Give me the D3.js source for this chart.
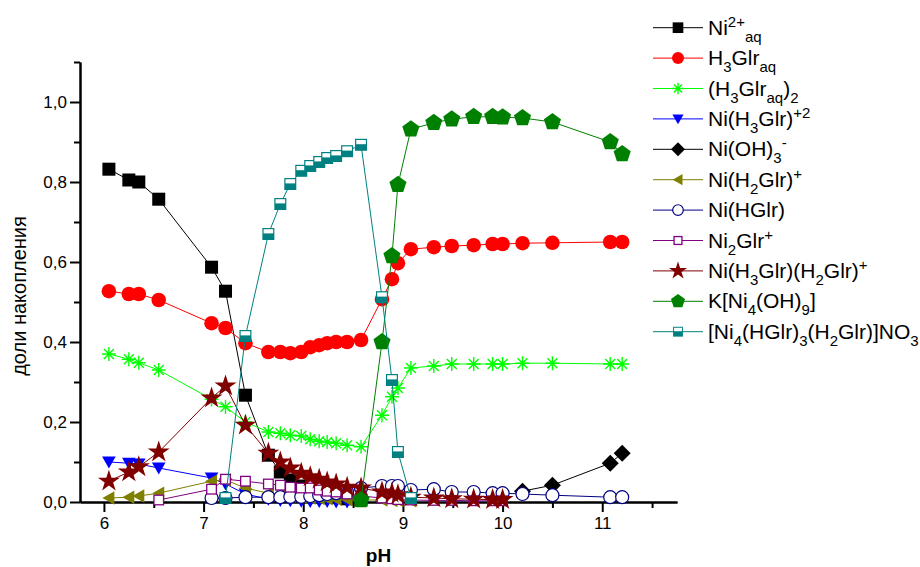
<!DOCTYPE html>
<html>
<head>
<meta charset="utf-8">
<script src="https://cdn.jsdelivr.net/npm/d3@7"></script>
<style>
  body { margin: 0; background: #fff; }
  svg { display: block; }
</style>
</head>
<body>
<div id="chart"></div>
<script>
// pH grid shared by every species
const pH = [6.05, 6.25, 6.35, 6.55, 7.08, 7.22, 7.42, 7.65, 7.77, 7.87, 7.98, 8.07, 8.16, 8.24, 8.33,
  8.44, 8.58, 8.79, 8.89, 8.95, 9.08, 9.31, 9.49, 9.71, 9.90, 10.0, 10.2, 10.5, 11.08, 11.2];

const niAq = [0.832, 0.805, 0.80, 0.757, 0.587, 0.527, 0.267, 0.117, 0.075, 0.055, 0.04, 0.03, 0.022, 0.017, 0.012,
  0.008, 0.005, null, null, null, null, null, null, null, null, null, null, null, null, null];
const h3glr = [0.527, 0.52, 0.52, 0.505, 0.447, 0.435, 0.397, 0.375, 0.375, 0.372, 0.375, 0.387, 0.392, 0.397, 0.40,
  0.40, 0.405, 0.507, 0.557, 0.597, 0.632, 0.637, 0.64, 0.642, 0.645, 0.645, 0.647, 0.648, 0.65, 0.65];
const h3glrDimer = [0.37, 0.357, 0.348, 0.33, 0.257, 0.238, 0.20, 0.175, 0.172, 0.167, 0.165, 0.157, 0.152, 0.15, 0.147,
  0.142, 0.138, 0.217, 0.263, 0.285, 0.335, 0.34, 0.345, 0.345, 0.345, 0.345, 0.347, 0.347, 0.345, 0.345];
const niH3glr = [0.10, 0.097, 0.095, 0.085, 0.06, 0.045, 0.02, 0.007, 0.004, 0.003, 0.002, 0.001, 0.001, 0.001, 0.0,
  0.0, null, null, null, null, null, null, null, null, null, null, null, null, null, null];
const niOH3 = [null, null, null, null, null, null, null, null, null, null, null, null, null, null, null,
  null, null, null, null, null, null, null, null, null, null, null, 0.027, 0.042, 0.097, 0.122];
const niH2glr = [0.01, 0.012, 0.015, 0.022, 0.052, 0.055, 0.035, 0.022, 0.018, 0.015, 0.012, 0.01, 0.009, 0.008, 0.007,
  0.006, 0.005, 0.005, 0.004, 0.004, 0.003, null, null, null, null, null, null, null, null, null];
const niHglr = [null, null, null, null, 0.01, 0.01, 0.012, 0.012, 0.012, 0.013, 0.013, 0.015, 0.017, 0.02, 0.022,
  0.025, 0.035, 0.04, 0.04, 0.04, 0.03, 0.032, 0.025, 0.025, 0.022, 0.022, 0.02, 0.017, 0.012, 0.012];
const ni2glr = [null, null, null, 0.005, 0.032, 0.057, 0.052, 0.045, 0.042, 0.037, 0.035, 0.035, 0.03, 0.027, 0.025,
  0.02, 0.015, 0.01, 0.008, 0.006, 0.005, 0.004, 0.004, 0.003, 0.003, 0.003, null, null, null, null];
const niMixed = [0.052, 0.075, 0.088, 0.125, 0.26, 0.29, 0.192, 0.122, 0.10, 0.085, 0.072, 0.063, 0.057, 0.05, 0.045,
  0.037, 0.035, 0.025, 0.022, 0.018, 0.012, 0.01, 0.008, 0.007, 0.006, 0.006, null, null, null, null];
const kNi4 = [null, null, null, null, null, null, null, null, null, null, null, null, null, null, null,
  null, 0.005, 0.40, 0.615, 0.793, 0.932, 0.948, 0.957, 0.963, 0.963, 0.962, 0.96, 0.95, 0.90, 0.87];
const ni4No3 = [null, null, null, null, null, 0.01, 0.415, 0.67, 0.745, 0.795, 0.828, 0.84, 0.85, 0.86, 0.865,
  0.877, 0.893, 0.512, 0.305, 0.125, 0.01, null, null, null, null, null, null, null, null, null];

// legend labels: [text, "n" | "sub" | "sup"]
const LABELS = [
  [["Ni", "n"], ["2+", "sup"], ["aq", "sub"]],
  [["H", "n"], ["3", "sub"], ["Glr", "n"], ["aq", "sub"]],
  [["(H", "n"], ["3", "sub"], ["Glr", "n"], ["aq", "sub"], [")", "n"], ["2", "sub"]],
  [["Ni(H", "n"], ["3", "sub"], ["Glr)", "n"], ["+2", "sup"]],
  [["Ni(OH)", "n"], ["3", "sub"], ["-", "sup"]],
  [["Ni(H", "n"], ["2", "sub"], ["Glr)", "n"], ["+", "sup"]],
  [["Ni(HGlr)", "n"]],
  [["Ni", "n"], ["2", "sub"], ["Glr", "n"], ["+", "sup"]],
  [["Ni(H", "n"], ["3", "sub"], ["Glr)(H", "n"], ["2", "sub"], ["Glr)", "n"], ["+", "sup"]],
  [["K[Ni", "n"], ["4", "sub"], ["(OH)", "n"], ["9", "sub"], ["]", "n"]],
  [["[Ni", "n"], ["4", "sub"], ["(HGlr)", "n"], ["3", "sub"], ["(H", "n"], ["2", "sub"], ["Glr)]NO", "n"], ["3", "sub"]],
];

const X_TICKS = [6, 7, 8, 9, 10, 11];
const Y_TICKS = [0, 0.2, 0.4, 0.6, 0.8, 1.0];

const series = [
  { values: niAq, color: "#000000", symbol: "square" },
  { values: h3glr, color: "#ff0000", symbol: "circle" },
  { values: h3glrDimer, color: "#00ff00", symbol: "asterisk" },
  { values: niH3glr, color: "#0000ff", symbol: "triDown" },
  { values: niOH3, color: "#000000", symbol: "diamond" },
  { values: niH2glr, color: "#808000", symbol: "triLeft" },
  { values: niHglr, color: "#000080", symbol: "openCircle" },
  { values: ni2glr, color: "#800080", symbol: "openSquare" },
  { values: niMixed, color: "#800000", symbol: "star" },
  { values: kNi4, color: "#008000", symbol: "pentagon" },
  { values: ni4No3, color: "#008080", symbol: "halfSquare" },
];

const W = 920, H = 567;
const FONT = "Arial, 'Liberation Sans', sans-serif";

const svg = d3.select("#chart").append("svg")
  .attr("width", W).attr("height", H)
  .attr("viewBox", [0, 0, W, H])
  .style("font-family", FONT);

const x = d3.scaleLinear().domain([5.76, 11.75]).range([80, 677]);
const y = d3.scaleLinear().domain([0, 1.1]).range([502, 62]);

function pentagonPath(r) {
  const pts = d3.range(5).map(i => {
    const a = -Math.PI / 2 + i * 2 * Math.PI / 5;
    return [r * Math.cos(a), r * Math.sin(a)];
  });
  return "M" + pts.map(p => p.join(",")).join("L") + "Z";
}

// draws one marker into g, centred at 0,0, scaled by k
function drawMarker(g, type, color, k) {
  switch (type) {
    case "square":
      g.append("rect").attr("x", -6.5 * k).attr("y", -6.5 * k)
        .attr("width", 13 * k).attr("height", 13 * k).attr("fill", color);
      break;
    case "circle":
      g.append("circle").attr("r", 7.3 * k).attr("fill", color);
      break;
    case "asterisk": {
      const r = 7 * k, d = r * Math.SQRT1_2;
      g.append("path")
        .attr("d", `M${-r},0L${r},0M0,${-r}L0,${r}M${-d},${-d}L${d},${d}M${-d},${d}L${d},${-d}`)
        .attr("stroke", color).attr("stroke-width", 1.4).attr("fill", "none");
      break;
    }
    case "triDown":
      g.append("path").attr("d", `M${-6.8 * k},${-5.5 * k}L${6.8 * k},${-5.5 * k}L0,${6.5 * k}Z`).attr("fill", color);
      break;
    case "diamond":
      g.append("path").attr("d", `M0,${-8.5 * k}L${8.5 * k},0L0,${8.5 * k}L${-8.5 * k},0Z`).attr("fill", color);
      break;
    case "triLeft":
      g.append("path").attr("d", `M${-6.5 * k},0L${5.5 * k},${-6.8 * k}L${5.5 * k},${6.8 * k}Z`).attr("fill", color);
      break;
    case "openCircle":
      g.append("circle").attr("r", 6.5 * k).attr("fill", "#fff")
        .attr("stroke", color).attr("stroke-width", 1.2);
      break;
    case "openSquare":
      g.append("rect").attr("x", -4.8 * k).attr("y", -4.8 * k)
        .attr("width", 9.6 * k).attr("height", 9.6 * k)
        .attr("fill", "#fff").attr("stroke", color).attr("stroke-width", 1.3);
      break;
    case "star":
      g.append("path").attr("d", d3.symbol(d3.symbolStar, 150 * k * k)()).attr("fill", color);
      break;
    case "pentagon":
      g.append("path").attr("d", pentagonPath(9 * k)).attr("fill", color);
      break;
    case "halfSquare":
      g.append("rect").attr("x", -6 * k).attr("y", -6 * k)
        .attr("width", 12 * k).attr("height", 12 * k).attr("fill", color);
      g.append("rect").attr("x", -4.8 * k).attr("y", -4.8 * k)
        .attr("width", 9.6 * k).attr("height", 4.2 * k).attr("fill", "#fff");
      break;
  }
}

// axes
const yMajor = d3.axisLeft(y).tickValues(Y_TICKS).tickSize(10).tickPadding(3).tickSizeOuter(0)
  .tickFormat(d => d3.format(".1f")(d).replace(".", ","));
const yMinor = d3.axisLeft(y).tickValues([0.1, 0.3, 0.5, 0.7, 0.9, 1.1]).tickSize(6).tickSizeOuter(0).tickFormat("");
const xMajor = d3.axisBottom(x).tickValues(X_TICKS).tickSize(10).tickPadding(5).tickSizeOuter(0)
  .tickFormat(d3.format("d"));
const xMinor = d3.axisBottom(x).tickValues([6.5, 7.5, 8.5, 9.5, 10.5, 11.5]).tickSize(6).tickSizeOuter(0).tickFormat("");

function styleAxis(g) {
  g.selectAll("path.domain").attr("stroke", "#000").attr("stroke-width", 2);
  g.selectAll(".tick line").attr("stroke", "#000").attr("stroke-width", 2);
  g.selectAll(".tick text").attr("fill", "#000").style("font-size", "17px").style("font-family", FONT);
}

svg.append("g").attr("transform", "translate(80,0)").call(yMinor).call(styleAxis);
svg.append("g").attr("transform", "translate(80,0)").call(yMajor).call(styleAxis);
svg.append("g").attr("transform", "translate(0,502)").call(xMinor).call(styleAxis);
svg.append("g").attr("transform", "translate(0,502)").call(xMajor).call(styleAxis);

svg.append("text")
  .attr("x", (x.range()[0] + x.range()[1]) / 2).attr("y", 562)
  .attr("text-anchor", "middle")
  .style("font-size", "19px").style("font-weight", 700)
  .text("pH");

svg.append("text")
  .attr("transform", "translate(26,296) rotate(-90)")
  .attr("text-anchor", "middle")
  .style("font-size", "20px")
  .text("доли накопления");

// series: line then markers, in legend order
const line = d3.line()
  .defined(d => d.v != null)
  .x(d => x(d.p))
  .y(d => y(d.v));

series.forEach(s => {
  const pts = pH.map((p, i) => ({ p, v: s.values[i] }));
  const g = svg.append("g");
  g.append("path")
    .datum(pts.filter(d => d.v != null))
    .attr("d", line)
    .attr("fill", "none")
    .attr("stroke", s.color)
    .attr("stroke-width", 1);
  pts.filter(d => d.v != null).forEach(d => {
    const m = g.append("g").attr("transform", `translate(${x(d.p)},${y(d.v)})`);
    drawMarker(m, s.symbol, s.color, 1);
  });
});

// legend
const LEG_X = 653, LEG_Y = 27.7, LEG_STEP = 30.4;
const legend = svg.append("g");
series.forEach((s, i) => {
  const cy = LEG_Y + i * LEG_STEP;
  legend.append("line")
    .attr("x1", LEG_X).attr("x2", LEG_X + 50)
    .attr("y1", cy).attr("y2", cy)
    .attr("stroke", s.color).attr("stroke-width", 1);
  const m = legend.append("g").attr("transform", `translate(${LEG_X + 25},${cy})`);
  drawMarker(m, s.symbol, s.color, 0.82);

  const t = legend.append("text")
    .attr("x", LEG_X + 55).attr("y", cy + 7)
    .style("font-size", "21px");
  let shift = 0;
  LABELS[i].forEach(([txt, kind]) => {
    const target = kind === "sub" ? 7 : kind === "sup" ? -8 : 0;
    t.append("tspan")
      .attr("dy", target - shift)
      .style("font-size", kind === "n" ? "21px" : "15px")
      .text(txt);
    shift = target;
  });
});
</script>
</body>
</html>
